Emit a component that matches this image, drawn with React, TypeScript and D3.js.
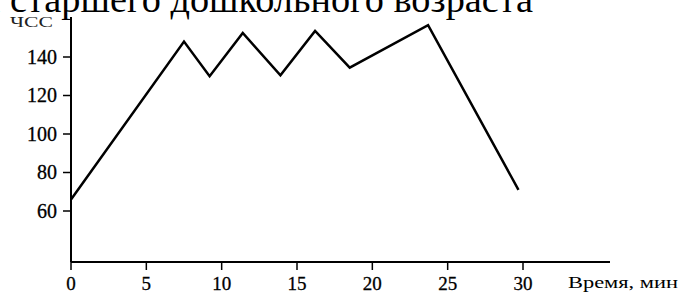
import React from "react";
import * as d3 from "d3";

const timeMin = [0, 7.5, 9.2, 11.4, 13.9, 16.2, 18.5, 23.7, 29.7];
const heartRate = [66, 148, 130, 152.5, 130.5, 153.5, 134.5, 156.5, 71];
const xTicks = [0, 5, 10, 15, 20, 25, 30];
const yTicks = [60, 80, 100, 120, 140];
const titleText = "детей старшего дошкольного возраста";
const yLabel = "ЧСС";
const xLabel = "Время, мин";

export default function App() {
  const W = 682, H = 293;
  const x = d3.scaleLinear().domain([0, 30]).range([71, 523]);
  const y = d3.scaleLinear().domain([60, 140]).range([211, 57]);
  const axisBottom = 262;
  const axisTop = 17;
  const axisRight = 610;
  const line = d3
    .line<number>()
    .x((_, i) => x(timeMin[i]))
    .y((d) => y(d));
  const font = "'Liberation Serif', 'Times New Roman', serif";
  return (
    <svg
      width={W}
      height={H}
      style={{ position: "absolute", left: 0, top: 0, background: "#fff" }}
      fontFamily={font}
    >
      <rect width={W} height={H} fill="#fff" />
      <text x={533} y={12} fontSize={38.3} textAnchor="end" fill="#000">
        {titleText}
      </text>
      <text x={10} y={27} fontSize={14} fill="#222" textLength={43} lengthAdjust="spacingAndGlyphs">
        {yLabel}
      </text>
      <line x1={x(0)} x2={x(0)} y1={axisTop} y2={axisBottom} stroke="#000" strokeWidth={2} />
      <line x1={x(0)} x2={axisRight} y1={axisBottom} y2={axisBottom} stroke="#000" strokeWidth={2} />
      {yTicks.map((t) => (
        <g key={"y" + t}>
          <line x1={x(0) - 8} x2={x(0)} y1={y(t)} y2={y(t)} stroke="#000" strokeWidth={1.5} />
          <text x={57} y={y(t) + 6.5} fontSize={20} textAnchor="end" fill="#000" stroke="#000" strokeWidth={0.3}>
            {t}
          </text>
        </g>
      ))}
      {xTicks.map((t) => (
        <g key={"x" + t}>
          <line x1={x(t)} x2={x(t)} y1={axisBottom} y2={axisBottom + 8} stroke="#000" strokeWidth={1.5} />
          <text x={x(t)} y={290} fontSize={19} textAnchor="middle" fill="#000" stroke="#000" strokeWidth={0.3}>
            {t}
          </text>
        </g>
      ))}
      <text x={568} y={288} fontSize={16} fill="#000" textLength={110} lengthAdjust="spacingAndGlyphs">
        {xLabel}
      </text>
      <path d={line(heartRate) || ""} fill="none" stroke="#000" strokeWidth={2.5} strokeLinejoin="miter" />
    </svg>
  );
}
